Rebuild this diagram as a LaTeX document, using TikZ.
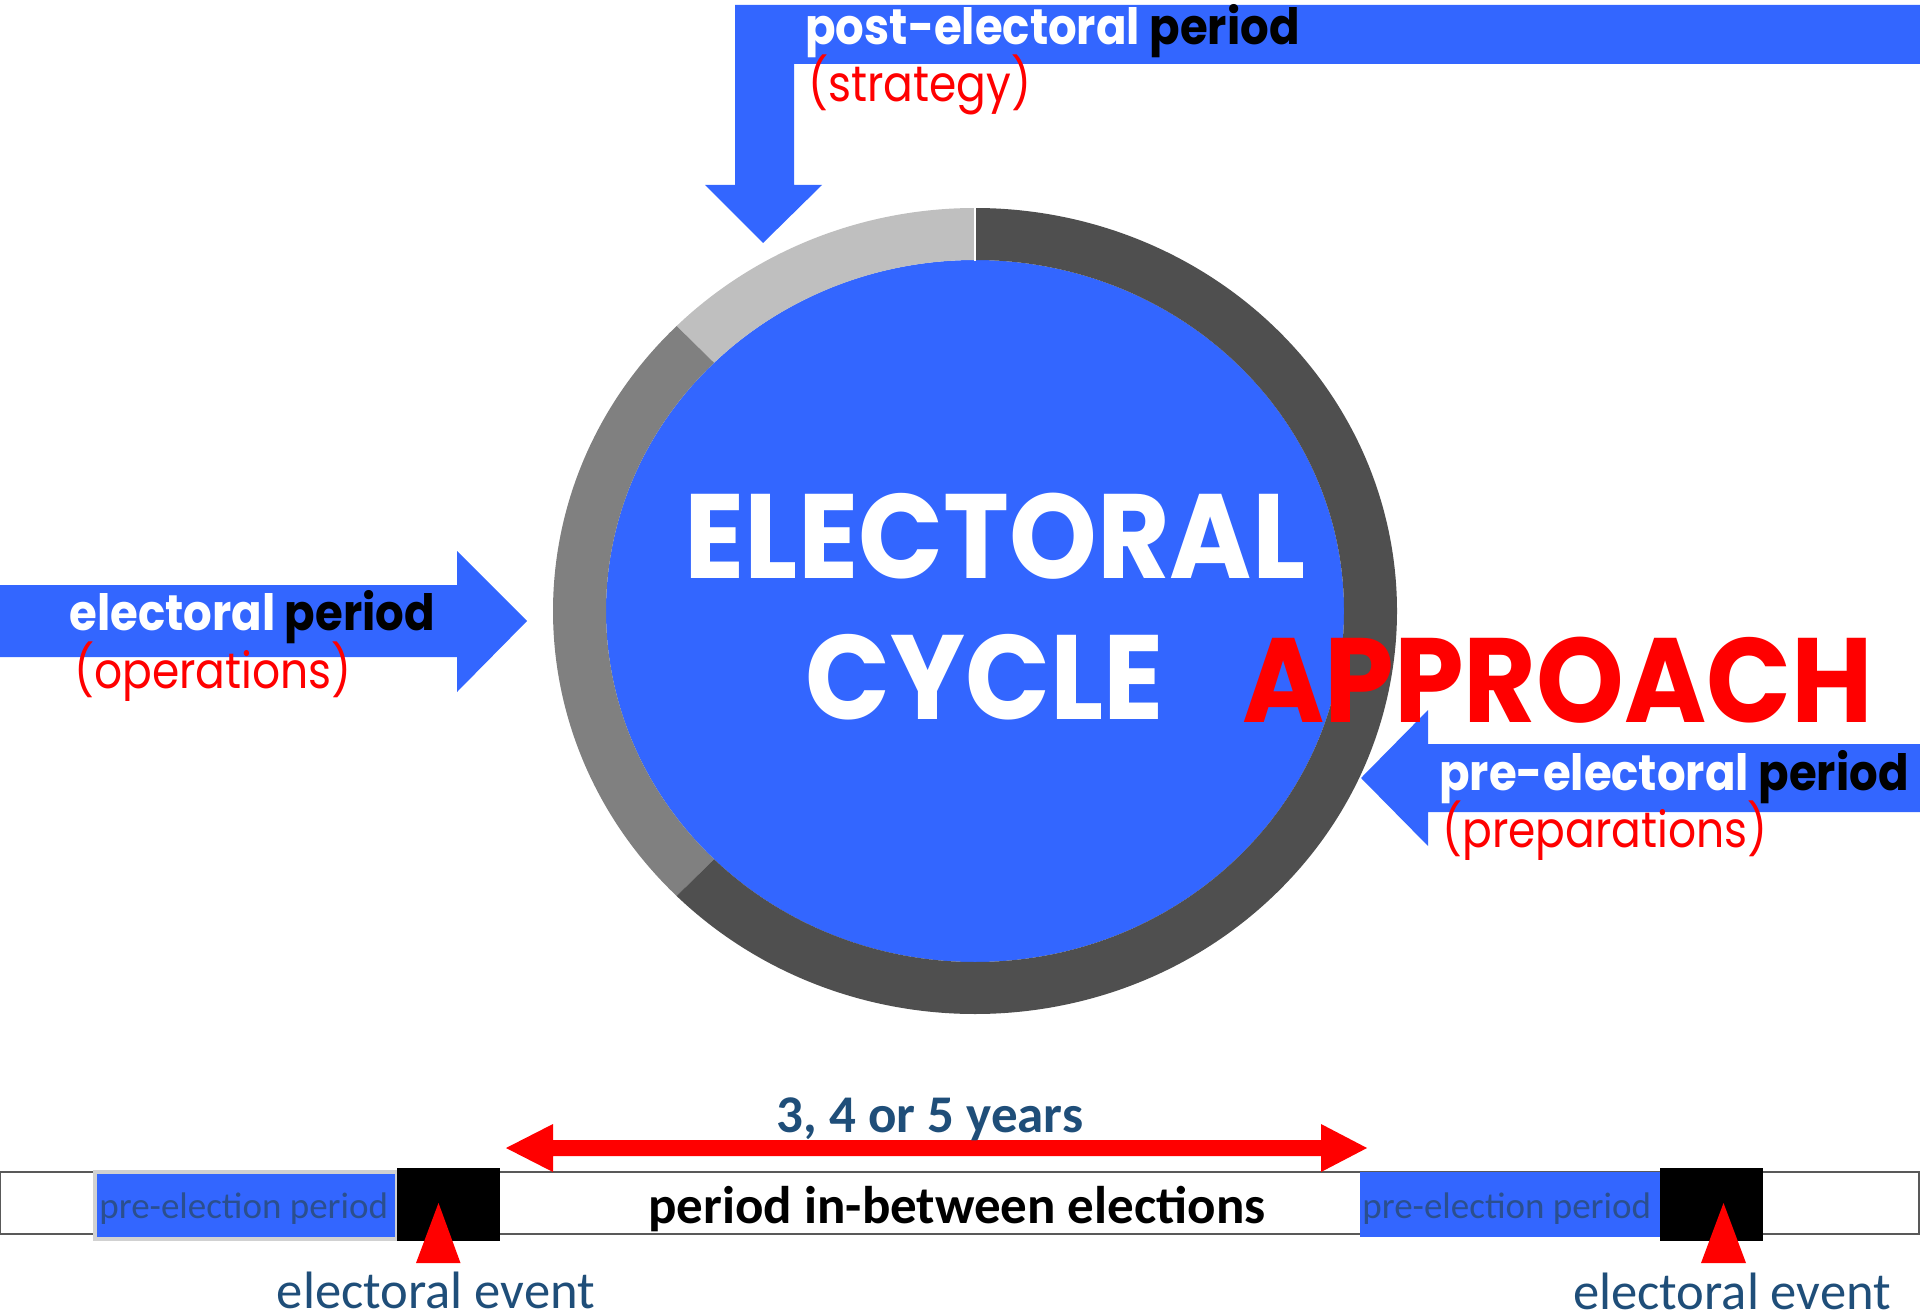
\documentclass[tikz,border=0pt]{standalone}
\usepackage{fontspec}
\newfontfamily\gothichead[FakeStretch=0.93]{Poppins}
\newfontfamily\gothicphase[FakeStretch=0.9]{Poppins}
\newfontfamily\gothictask[FakeStretch=0.88]{Poppins}
\newfontfamily\calibri{Carlito}
\definecolor{cycleblue}{HTML}{3366FF}
\definecolor{ringlight}{HTML}{BFBFBF}
\definecolor{ringmid}{HTML}{808080}
\definecolor{ringdark}{HTML}{4F4F4F}
\definecolor{navytext}{HTML}{1F4E79}
\definecolor{boxtext}{HTML}{2B4F8E}
\tikzset{
  blockarrow/.style={fill=cycleblue},
  phase/.style={anchor=base west, inner sep=0pt, text=white,
    font=\gothicphase\bfseries\fontsize{25}{25}\selectfont},
  task/.style={anchor=base west, inner sep=0pt, text=red,
    font=\gothictask\fontsize{25}{25}\selectfont},
  headline/.style={anchor=base west, inner sep=0pt, text=white,
    font=\gothichead\bfseries\fontsize{60}{60}\selectfont},
  event/.style={anchor=base, inner sep=0pt, text=navytext,
    font=\calibri\fontsize{26.3}{26.3}\selectfont},
  prelabel/.style={anchor=base west, inner sep=0pt, text=boxtext,
    font=\calibri\fontsize{18.5}{18.5}\selectfont},
  timelabel/.style={anchor=base, inner sep=0pt,
    font=\calibri\bfseries\fontsize{26.5}{26.5}\selectfont},
}

\begin{document}
\begin{tikzpicture}[x=0.5pt,y=0.5pt]
\useasboundingbox (0,0) rectangle (1920,-1315);
% the cycle
\begin{scope}[shift={(975,-611)}]
\fill[cycleblue] (0,0) ellipse[x radius=369, y radius=351];
\foreach \s/\e/\c in {90/135/ringlight, 135/225/ringmid, 225/450/ringdark}
  \fill[\c] (\s:422 and 403) arc[start angle=\s, end angle=\e, x radius=422, y radius=403]
    -- (\e:369 and 351) arc[start angle=\e, end angle=\s, x radius=369, y radius=351] -- cycle;
\draw[white, line width=1pt] (90:368 and 350) -- (90:423 and 404);
\end{scope}
% the three periods
\fill[blockarrow] (735,-5) -- (1920,-5) -- (1920,-64) -- (794,-64) -- (794,-185)
  -- (822,-185) -- (763,-243) -- (705,-185) -- (735,-185) -- cycle;
\fill[blockarrow] (0,-585) -- (457,-585) -- (457,-551) -- (527,-621)
  -- (457,-692) -- (457,-657) -- (0,-657) -- cycle;
\fill[blockarrow] (1920,-744) -- (1428,-744) -- (1428,-710) -- (1361,-778)
  -- (1428,-846) -- (1428,-812) -- (1920,-812) -- cycle;
\node[phase] (post) at (805,-45) {post-electoral \textcolor{black}{period}};
\node[task] (strategy) at (808,-102) {(strategy)};
\node[phase] (during) at (69,-630) {electoral \textcolor{black}{period}};
\node[task] (operations) at (74,-688) {(operations)};
\node[phase] (pre) at (1439,-790) {pre-electoral \textcolor{black}{period}};
\node[task] (preparations) at (1442,-847) {(preparations)};
\node[headline] (electoral) at (684,-578) {ELECTORAL};
\node[headline] (cycle) at (805,-719) {CYCLE};
% the timeline
\draw[black!65, line width=1pt] (0,-1172) rectangle (1919,-1234);
\fill[cycleblue, draw=black!18, line width=2pt] (95,-1171.5) rectangle (397,-1238.5);
\fill[cycleblue] (1360,-1172) rectangle (1660,-1237);
\fill (397,-1168) rectangle (500,-1241);
\fill (1660,-1168) rectangle (1763,-1241);
\fill[red] (438.5,-1203) -- (460.5,-1263) -- (416,-1263) -- cycle;
\fill[red] (1723.5,-1203) -- (1746,-1263) -- (1701,-1263) -- cycle;
\fill[red] (506,-1148) -- (553,-1124) -- (553,-1140) -- (1321,-1140) -- (1321,-1124)
  -- (1367,-1148) -- (1321,-1172) -- (1321,-1156) -- (553,-1156) -- (553,-1172) -- cycle;
\node[prelabel] (pre1) at (99,-1218) {pre-election period};
\node[prelabel] (pre2) at (1362,-1218) {pre-election period};
\node[timelabel] (between) at (957,-1223) {period in-between elections};
\node[timelabel, text=navytext] (years) at (930,-1132) {3, 4 or 5 years};
\node[event] (event1) at (436,-1308) {electoral event};
\node[event] (event2) at (1732,-1309) {electoral event};
\node[headline, text=red] (approach) at (1242,-722) {APPROACH};
\end{tikzpicture}
\end{document}
